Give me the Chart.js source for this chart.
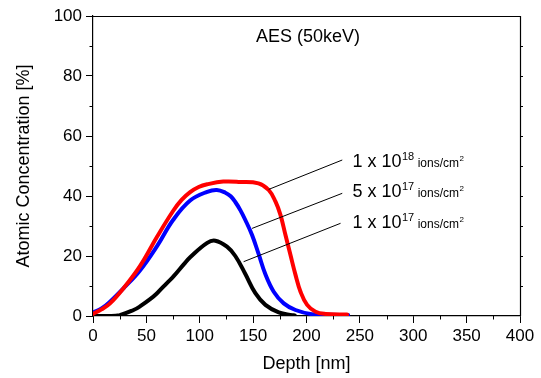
<!DOCTYPE html>
<html>
<head>
<meta charset="utf-8">
<script src="https://cdn.jsdelivr.net/npm/chart.js@4"></script>
<style>
html,body{margin:0;padding:0;background:#fff;}
canvas{display:block;}
</style>
</head>
<body>
<canvas id="c" width="541" height="378"></canvas>
<script>
// ---- data ----
const redDepth  = [0, 8, 16, 28.5, 44, 60, 75, 83, 91, 99, 107, 122, 138, 155, 164.6, 171, 175.6, 180.3, 185, 189.7, 194.4, 200.6, 208.5, 218, 238];
const redConc   = [0.7, 2.2, 4.2, 9.2, 16.6, 26.4, 35, 38.7, 41.3, 43, 43.9, 44.8, 44.7, 44.2, 42, 38.1, 33.7, 27, 20.3, 13.7, 8.1, 3.7, 1.4, 0.7, 0.5];
const blueDepth = [0, 8, 16, 28.5, 44, 60, 75, 91, 107, 116, 124, 129, 133.3, 138, 142.7, 149, 155.2, 161.5, 169.3, 178.7, 189.7, 205, 220, 239];
const blueConc  = [1.2, 2.5, 4.8, 9.2, 15.2, 23.3, 32, 38.5, 41.4, 42, 41.1, 39.9, 38, 35.3, 32, 27, 20.6, 13.9, 8.1, 4.2, 2, 0.6, 0.4, 0.3];
const blackDepth = [0, 15, 25, 38, 44, 53.5, 60, 69, 75.4, 85, 91, 107, 114.6, 125.5, 133.3, 142.7, 152.1, 161.5, 174, 186.6, 189];
const blackConc  = [0, 0, 0.3, 2, 3.2, 5.6, 7.6, 10.9, 13.2, 17.2, 19.6, 24.4, 25.1, 23.1, 20, 14, 7.6, 3.7, 1.2, 0.3, 0.2];

const seriesNames = ['1 x 10^18 ions/cm^2', '5 x 10^17 ions/cm^2', '1 x 10^17 ions/cm^2'];
const labelMantissa = ['1 x 10', '5 x 10', '1 x 10'];
const labelExponent = ['18', '17', '17'];
const labelUnit = 'ions/cm';
const chartTitle = 'AES (50keV)';
const xTitle = 'Depth [nm]';
const yTitle = 'Atomic Concentration [%]';
const xTickValues = [0, 50, 100, 150, 200, 250, 300, 350, 400];
const yTickValues = [0, 20, 40, 60, 80, 100];

// annotation anchors in data units: [label x, label baseline y], leader line [x1,y1,x2,y2]
const labelPos = [[243, 49.8], [243, 39.6], [243, 29.2]];
const leaderLines = [[233.5, 52, 164.6, 42.2], [233.5, 40.9, 149, 29.2], [231.9, 30.9, 141.1, 18.1]];
const titlePos = [201.4, 93.1];

function pts(xs, ys) { return xs.map((x, i) => ({x: x, y: ys[i]})); }

const FONT = "'Liberation Sans', Arial, sans-serif";

const annotPlugin = {
  id: 'annot',
  afterDraw(chart) {
    const ctx = chart.ctx, xs = chart.scales.x, ys = chart.scales.y, a = chart.chartArea;
    ctx.save();
    // frame (top & right)
    ctx.strokeStyle = '#000'; ctx.lineWidth = 1.2;
    ctx.beginPath();
    ctx.moveTo(a.left, a.top + 0.5); ctx.lineTo(a.right + 0.5, a.top + 0.5); ctx.lineTo(a.right + 0.5, a.bottom);
    ctx.stroke();
    // minor ticks
    ctx.lineWidth = 1;
    ctx.beginPath();
    for (let v = 10; v < 100; v += 20) {
      const py = Math.round(ys.getPixelForValue(v)) + 0.5;
      ctx.moveTo(a.left - 3.5, py); ctx.lineTo(a.left, py);
      ctx.moveTo(a.right, py); ctx.lineTo(a.right + 3, py);
    }
    for (let v = 20; v < 100; v += 20) {
      const py = Math.round(ys.getPixelForValue(v)) + 0.5;
      ctx.moveTo(a.right, py); ctx.lineTo(a.right + 3, py);
    }
    for (let v = 25; v < 400; v += 50) {
      const px = Math.round(xs.getPixelForValue(v)) + 0.5;
      ctx.moveTo(px, a.bottom); ctx.lineTo(px, a.bottom + 3.5);
    }
    ctx.stroke();
    // leader lines
    ctx.lineWidth = 1;
    ctx.beginPath();
    leaderLines.forEach(l => {
      ctx.moveTo(xs.getPixelForValue(l[0]), ys.getPixelForValue(l[1]));
      ctx.lineTo(xs.getPixelForValue(l[2]), ys.getPixelForValue(l[3]));
    });
    ctx.stroke();
    // labels
    ctx.fillStyle = '#000';
    ctx.textBaseline = 'alphabetic';
    ctx.textAlign = 'left';
    labelPos.forEach((p, i) => {
      let x = xs.getPixelForValue(p[0]);
      const y = ys.getPixelForValue(p[1]);
      ctx.font = '18px ' + FONT;
      ctx.fillText(labelMantissa[i], x, y);
      x += ctx.measureText(labelMantissa[i]).width;
      ctx.font = '11px ' + FONT;
      ctx.fillText(labelExponent[i], x + 0.5, y - 7);
      x += ctx.measureText(labelExponent[i]).width + 4;
      ctx.font = '12px ' + FONT;
      ctx.fillText(labelUnit, x, y);
      x += ctx.measureText(labelUnit).width;
      ctx.font = '8px ' + FONT;
      ctx.fillText('2', x + 0.5, y - 6);
    });
    // chart title
    ctx.font = '18px ' + FONT;
    ctx.textAlign = 'center';
    ctx.textBaseline = 'middle';
    ctx.fillText(chartTitle, xs.getPixelForValue(titlePos[0]), ys.getPixelForValue(titlePos[1]));
    ctx.restore();
  }
};

new Chart(document.getElementById('c'), {
  type: 'line',
  data: {
    datasets: [
      {label: seriesNames[0], data: pts(redDepth, redConc), borderColor: '#ff0000'},
      {label: seriesNames[1], data: pts(blueDepth, blueConc), borderColor: '#0000ff'},
      {label: seriesNames[2], data: pts(blackDepth, blackConc), borderColor: '#000000'}
    ]
  },
  options: {
    responsive: false,
    devicePixelRatio: 1,
    animation: false,
    events: [],
    layout: {padding: {top: 16, right: 21, left: 0, bottom: 0}},
    elements: {
      line: {borderWidth: 4, tension: 0.4, fill: false, borderCapStyle: 'round', borderJoinStyle: 'round'},
      point: {radius: 0}
    },
    plugins: {legend: {display: false}, tooltip: {enabled: false}},
    scales: {
      x: {
        type: 'linear', min: 0, max: 400,
        afterFit(s) { s.height = 62; },
        afterBuildTicks(s) { s.ticks = xTickValues.map(v => ({value: v})); },
        grid: {drawOnChartArea: false, tickLength: 7, tickColor: '#000', tickWidth: 1},
        border: {display: true, color: '#000', width: 1.2},
        ticks: {color: '#000', font: {family: FONT, size: 17}, padding: 3, maxRotation: 0, autoSkip: false},
        title: {display: true, text: xTitle, color: '#000', font: {family: FONT, size: 18}, padding: {top: 0, bottom: 3}}
      },
      y: {
        type: 'linear', min: 0, max: 100,
        afterFit(s) { s.width = 93; },
        afterBuildTicks(s) { s.ticks = yTickValues.map(v => ({value: v})); },
        grid: {drawOnChartArea: false, tickLength: 7, tickColor: '#000', tickWidth: 1},
        border: {display: true, color: '#000', width: 1.2},
        ticks: {color: '#000', font: {family: FONT, size: 17}, padding: 4, autoSkip: false},
        title: {display: true, text: yTitle, color: '#000', font: {family: FONT, size: 18}, padding: {top: 13, bottom: 0}}
      }
    }
  },
  plugins: [annotPlugin]
});
</script>
</body>
</html>
